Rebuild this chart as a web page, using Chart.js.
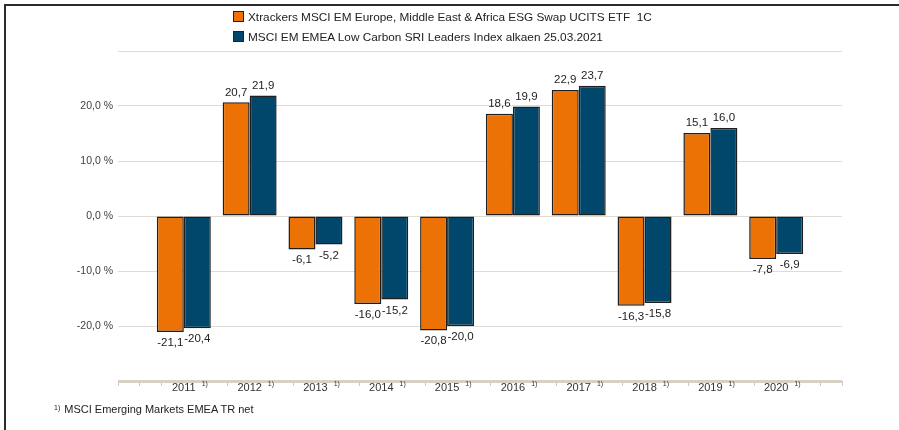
<!DOCTYPE html>
<html>
<head>
<meta charset="utf-8">
<script src="https://cdn.jsdelivr.net/npm/chart.js@4.4.0/dist/chart.umd.min.js"></script>
<style>
  html, body { margin: 0; padding: 0; background: #fff; }
  #wrap { position: relative; width: 899px; height: 430px; overflow: hidden;
          font-family: "Liberation Sans", Arial, sans-serif; color: #222; }
  #chart { position: absolute; left: 0; top: 0; }
  #frame { position: absolute; left: 4px; top: 4px; right: -10px; bottom: -10px;
           border-left: 2px solid #2b2b2b; border-top: 2px solid #2b2b2b; pointer-events: none; }
  .leg { position: absolute; left: 233px; font-size: 11.8px; line-height: 14px; white-space: pre; }
  .leg i { display: inline-block; width: 9px; height: 9px; border: 1px solid #222;
           margin-right: 4px; vertical-align: -1px; }
  #foot { position: absolute; left: 54px; top: 401px; font-size: 11px; line-height: 13px; white-space: nowrap; }
  #foot sup { font-size: 7px; margin-right: 4px; vertical-align: 3px; }
</style>
</head>
<body>
<div id="wrap">
  <canvas id="chart" width="899" height="430"></canvas>
  <div id="leg1" class="leg"><i></i><span></span></div>
  <div id="leg2" class="leg"><i></i><span></span></div>
  <div id="foot"><sup></sup><span></span></div>
  <div id="frame"></div>
</div>
<script>
// ── Data ──────────────────────────────────────────────────────
const YEARS         = ["2011", "2012", "2013", "2014", "2015", "2016", "2017", "2018", "2019", "2020"];
const ETF_NAME      = "Xtrackers MSCI EM Europe, Middle East & Africa ESG Swap UCITS ETF  1C";
const INDEX_NAME    = "MSCI EM EMEA Low Carbon SRI Leaders Index alkaen 25.03.2021";
const ETF_RETURNS   = [-21.1, 20.7, -6.1, -16.0, -20.8, 18.6, 22.9, -16.3, 15.1, -7.8];
const INDEX_RETURNS = [-20.4, 21.9, -5.2, -15.2, -20.0, 19.9, 23.7, -15.8, 16.0, -6.9];
const Y_TICKS       = [-30, -20, -10, 0, 10, 20, 30];
const NOTE_MARK     = "1)";
const NOTE_TEXT     = "MSCI Emerging Markets EMEA TR net";

const FONT   = '"Liberation Sans", Arial, sans-serif';
const ORANGE = "#ec7205";
const NAVY   = "#00476b";

// ── HTML legend + footnote ────────────────────────────────────
function setLegend(id, color, text) {
  const el = document.getElementById(id);
  el.querySelector("i").style.background = color;
  el.querySelector("span").textContent = text;
}
setLegend("leg1", ORANGE, ETF_NAME);
setLegend("leg2", NAVY, INDEX_NAME);
document.getElementById("leg1").style.top = "10px";
document.getElementById("leg2").style.top = "30px";
document.querySelector("#foot sup").textContent = NOTE_MARK;
document.querySelector("#foot span").textContent = NOTE_TEXT;

const fmt = (v) => v.toFixed(1).replace(".", ",");

// ── Plugins ───────────────────────────────────────────────────
const valueLabels = {
  id: "valueLabels",
  afterDatasetsDraw(chart) {
    const ctx = chart.ctx;
    ctx.save();
    ctx.font = "11.5px " + FONT;
    ctx.fillStyle = "#222";
    ctx.textAlign = "center";
    chart.data.datasets.forEach((ds, di) => {
      chart.getDatasetMeta(di).data.forEach((bar, i) => {
        const v = ds.data[i].y;
        if (v >= 0) { ctx.textBaseline = "bottom"; ctx.fillText(fmt(v), bar.x, bar.y - 4); }
        else        { ctx.textBaseline = "top";    ctx.fillText(fmt(v), bar.x, bar.y + 5); }
      });
    });
    ctx.restore();
  },
};

// "1)" superscript after each year label
const yearMarks = {
  id: "yearMarks",
  afterDraw(chart) {
    const sx = chart.scales.x;
    const ctx = chart.ctx;
    ctx.save();
    sx.ticks.forEach((t) => {
      ctx.font = "11px " + FONT;
      const w = ctx.measureText(YEARS[t.value]).width;
      const px = sx.getPixelForValue(t.value);
      ctx.font = "7px " + FONT;
      ctx.fillStyle = "#333";
      ctx.textAlign = "left";
      ctx.textBaseline = "middle";
      ctx.fillText(NOTE_MARK, px + w / 2 + 6, 384);
    });
    ctx.restore();
  },
};

// ── Chart ─────────────────────────────────────────────────────
new Chart(document.getElementById("chart"), {
  type: "bar",
  data: {
    datasets: [
      { label: ETF_NAME,   xAxisID: "x", data: ETF_RETURNS.map((v, i) => ({ x: i, y: v })),
        backgroundColor: ORANGE, borderColor: "#1e1e1e", borderWidth: 1.5, borderSkipped: false },
      { label: INDEX_NAME, xAxisID: "x", data: INDEX_RETURNS.map((v, i) => ({ x: i, y: v })),
        backgroundColor: NAVY,   borderColor: "#1e1e1e", borderWidth: 1.5, borderSkipped: false },
    ],
  },
  options: {
    responsive: false,
    animation: false,
    layout: { padding: { top: 51, right: 57, bottom: 29, left: 0 } },
    datasets: { bar: { categoryPercentage: 0.82, barPercentage: 1.0 } },
    plugins: { legend: { display: false }, tooltip: { enabled: false } },
    scales: {
      x: {
        type: "linear", position: "bottom", weight: 1, min: -1, max: 10, offset: false,
        afterBuildTicks: (s) => { s.ticks = YEARS.map((_, i) => ({ value: i })); },
        afterFit: (s) => { s.height = 20; },
        grid: { display: false, drawTicks: false, offset: false },
        border: { display: false },
        ticks: {
          autoSkip: false, maxRotation: 0, padding: 0, color: "#333",
          font: { size: 11, family: FONT },
          callback: (v) => YEARS[v],
        },
      },
      xt: {
        type: "linear", position: "bottom", weight: 0, min: -1, max: 10, offset: false,
        afterBuildTicks: (s) => {
          const marks = [-1, -2 / 3, -1 / 3];
          for (let k = 0; k < YEARS.length; k++) marks.push(k + 2 / 3);
          marks.push(10);
          s.ticks = marks.map((value) => ({ value }));
        },
        afterFit: (s) => { s.height = 0; },
        grid: { drawOnChartArea: false, offset: false, color: "#cfc9bb", tickLength: 5 },
        border: { display: false },
        ticks: { display: false },
      },
      y: {
        min: -30, max: 30,
        afterBuildTicks: (s) => { s.ticks = Y_TICKS.map((value) => ({ value })); },
        afterFit: (s) => { s.width = 118; },
        border: { display: false },
        grid: {
          drawTicks: false,
          color: (c) => (c.tick && c.tick.value === -30 ? "#d6d1c4" : "#dfdcd5"),
          lineWidth: (c) => (c.tick && c.tick.value === -30 ? 3 : 1),
        },
        ticks: {
          padding: 5, color: "#404040", font: { size: 10.5, family: FONT },
          callback: (v) => (v === 30 || v === -30 ? "" : fmt(v) + " %"),
        },
      },
    },
  },
  plugins: [valueLabels, yearMarks],
});
</script>
</body>
</html>
